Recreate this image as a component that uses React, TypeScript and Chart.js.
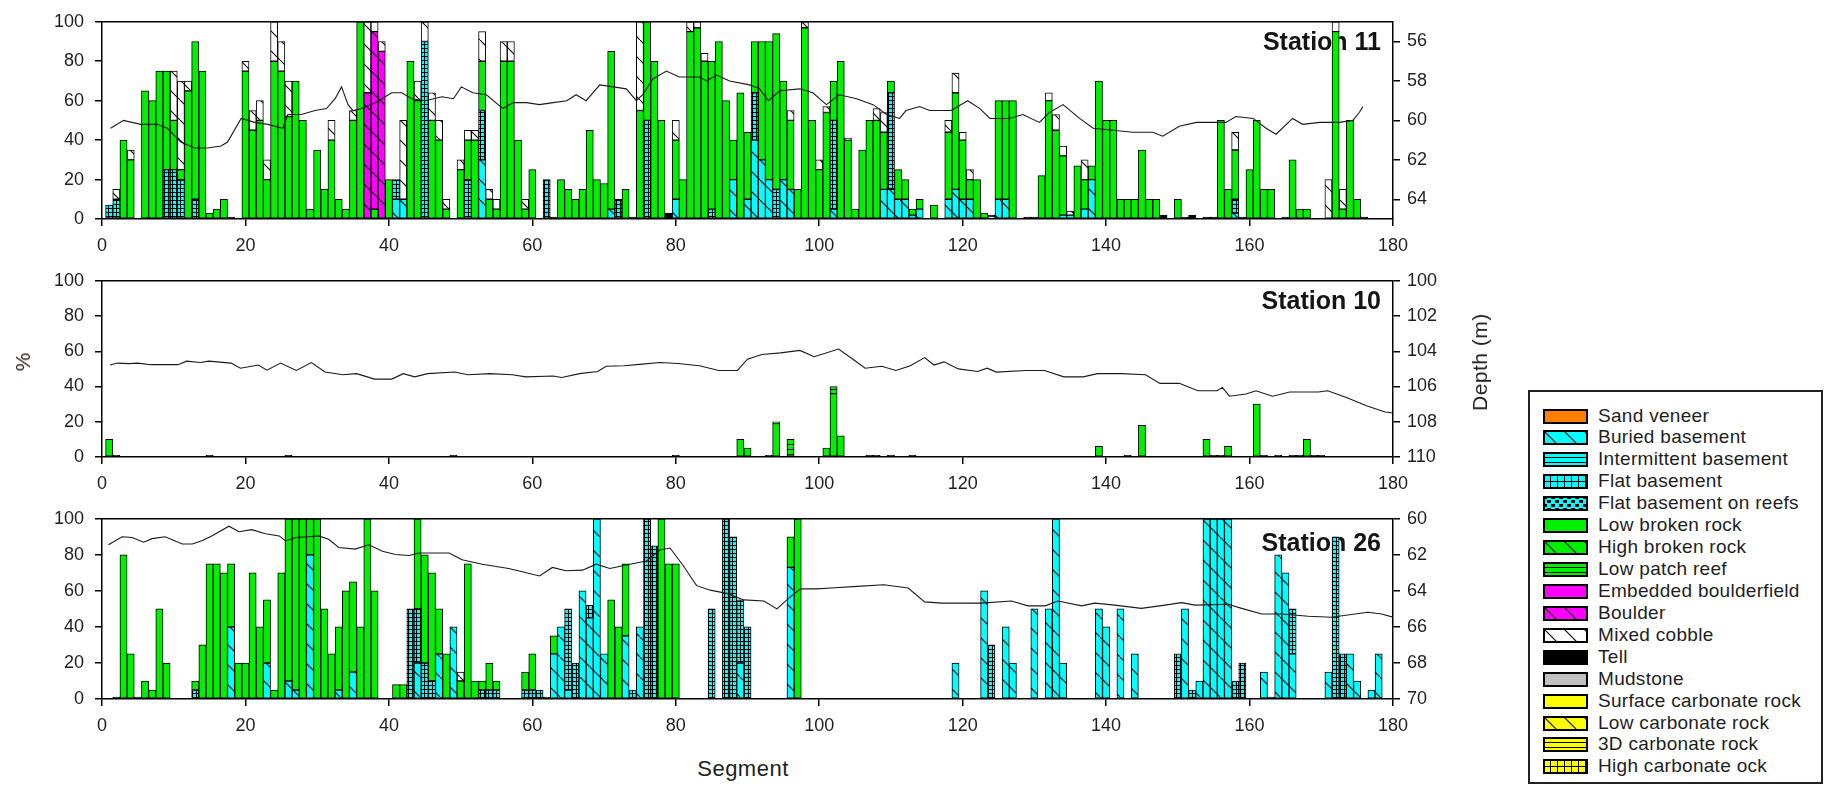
import React, { useEffect, useRef } from 'react';
import { Chart, registerables } from 'chart.js';

Chart.register(...registerables);

type Pair = [number, number];

// ---------------- axis ticks ----------------
const segmentTicks = [0, 20, 40, 60, 80, 100, 120, 140, 160, 180];
const percentTicks = [0, 20, 40, 60, 80, 100];
const st11DepthTicks = [56, 58, 60, 62, 64];
const st10DepthTicks = [100, 102, 104, 106, 108, 110];
const st26DepthTicks = [60, 62, 64, 66, 68, 70];

// ---------------- categories (legend order = stacking order) ----------------
const categoryNames = [
  'Sand veneer',
  'Buried basement',
  'Intermittent basement',
  'Flat basement',
  'Flat basement on reefs',
  'Low broken rock',
  'High broken rock',
  'Low patch reef',
  'Embedded boulderfield',
  'Boulder',
  'Mixed cobble',
  'Tell',
  'Mudstone',
  'Surface carbonate rock',
  'Low carbonate rock',
  '3D carbonate rock',
  'High carbonate ock',
];

const categoryStyles = [
  { color: '#FF8000', kind: 'solid' },
  { color: '#00FFFF', kind: 'diag' },
  { color: '#00FFFF', kind: 'hlines' },
  { color: '#00FFFF', kind: 'grid' },
  { color: '#00FFFF', kind: 'checker' },
  { color: '#00F000', kind: 'solid' },
  { color: '#00F000', kind: 'diag' },
  { color: '#00F000', kind: 'hlines' },
  { color: '#FF00FF', kind: 'solid' },
  { color: '#FF00FF', kind: 'diag' },
  { color: '#FFFFFF', kind: 'diag' },
  { color: '#000000', kind: 'solid' },
  { color: '#C0C0C0', kind: 'solid' },
  { color: '#FFFF00', kind: 'solid' },
  { color: '#FFFF00', kind: 'diag' },
  { color: '#FFFF00', kind: 'hlines' },
  { color: '#FFFF00', kind: 'grid' },
];

// ---------------- Station 11: [segment, %] ----------------
const st11Buried: Pair[] = [[41,10],[42,10],[53,30],[71,5],[80,10],[88,20],[90,10],[91,40],[92,30],[93,20],[95,20],[96,15],[102,5],[109,15],[110,15],[111,10],[112,10],[113,2],[114,5],[118,10],[119,15],[120,10],[121,10],[125,10],[126,10],[134,2],[135,2],[137,5],[138,20],[158,3]];
const st11Flat: Pair[] = [[1,7],[2,10],[9,25],[10,25],[11,20],[13,10],[41,10],[45,90],[51,20],[53,25],[62,20],[72,10],[76,50],[85,5],[91,24],[94,15],[102,45],[110,49],[158,7]];
const st11LowBroken: Pair[] = [[3,40],[4,30],[6,65],[7,60],[8,75],[9,50],[10,25],[11,5],[12,65],[13,80],[14,75],[15,3],[16,5],[17,10],[20,75],[21,45],[22,50],[23,20],[24,80],[25,75],[26,52],[27,70],[28,50],[29,5],[30,35],[31,15],[32,40],[33,10],[34,5],[35,50],[36,100],[38,5],[40,20],[43,80],[44,60],[46,50],[47,40],[48,5],[50,25],[51,20],[52,40],[53,25],[54,10],[55,5],[56,80],[57,80],[58,40],[59,5],[60,25],[64,20],[65,15],[66,10],[67,15],[68,45],[69,20],[70,18],[71,80],[73,15],[75,55],[76,50],[77,80],[78,50],[80,30],[81,20],[82,95],[83,97],[84,80],[85,75],[86,90],[87,60],[88,20],[89,64],[90,34],[91,26],[92,60],[93,70],[94,79],[95,50],[96,35],[97,15],[98,97],[99,50],[100,25],[101,54],[102,20],[103,80],[104,40],[105,5],[106,35],[107,50],[108,50],[109,29],[110,6],[111,15],[112,10],[113,3],[114,5],[116,7],[118,34],[119,49],[120,30],[121,10],[122,20],[123,3],[125,50],[126,50],[127,60],[131,22],[132,60],[133,45],[134,30],[136,27],[137,15],[138,7],[139,70],[140,50],[141,50],[142,10],[143,10],[144,10],[145,35],[146,10],[147,10],[150,10],[156,50],[157,15],[158,25],[160,25],[161,50],[162,15],[163,15],[166,30],[167,5],[168,5],[172,95],[173,5],[174,50],[175,10]];
const st11Boulder: Pair[] = [[37,64],[38,90],[39,85]];
const st11Cobble: Pair[] = [[2,5],[4,5],[10,25],[11,45],[12,5],[20,5],[21,10],[22,10],[23,10],[24,20],[25,15],[26,18],[32,10],[35,5],[37,36],[38,5],[39,5],[42,40],[44,10],[45,10],[46,14],[47,10],[48,5],[50,5],[51,5],[52,5],[53,15],[54,5],[55,5],[56,10],[57,10],[59,5],[75,45],[80,10],[82,5],[83,3],[84,4],[96,5],[98,3],[100,5],[101,3],[104,1],[108,6],[109,10],[118,6],[119,10],[120,4],[121,5],[124,1],[132,4],[133,8],[134,5],[135,2],[137,10],[158,9],[171,20],[172,5],[173,10]];
const st11Tell: Pair[] = [[18,1],[63,1],[74,1],[79,3],[124,1],[129,1],[130,1],[148,2],[151,1],[152,2],[154,1],[155,1],[159,1],[165,1],[176,1]];
const st11Depth: Pair[] = [[1.2,60.4],[3,60.0],[5.4,60.2],[7.7,60.2],[9.1,60.4],[11,61.1],[12.9,61.4],[14.7,61.4],[16.6,61.3],[17.5,61.1],[19.4,59.9],[21.3,60.1],[23.1,60.2],[25.2,60.4],[25.9,59.7],[27.8,59.7],[29.7,59.5],[31.3,59.4],[32.5,58.9],[33.4,58.3],[34.3,59.2],[35,59.5],[36.2,59.4],[38.1,59.1],[40.4,58.6],[41.8,58.6],[43.2,58.9],[45.1,59.0],[47.4,58.8],[49,58.9],[50.1,58.3],[51.7,58.6],[53.6,58.7],[55.9,59.4],[57.3,59.1],[59.2,59.1],[61,59.2],[62.9,59.1],[64.8,59.0],[66.1,58.7],[67.5,59.0],[69.4,58.2],[71.3,58.3],[73.1,58.4],[74.5,59.0],[75.4,58.7],[76.8,57.9],[78.7,57.5],[80.5,57.8],[83.3,57.8],[84.3,58.0],[85.7,57.7],[87.5,58.0],[90.3,58.2],[91.7,58.4],[92.9,59.0],[94.5,58.5],[97.3,58.4],[99.1,58.6],[101,59.2],[102.8,58.7],[105.2,58.9],[107.5,59.2],[109.4,59.7],[111.2,59.9],[112.1,59.5],[114,59.3],[115.4,59.5],[118.4,59.5],[120.7,59.0],[122.4,59.4],[123.8,59.9],[126.5,59.9],[128.4,59.7],[130.7,60.1],[132.1,59.6],[134,59.2],[136.3,59.9],[138.2,60.4],[141,60.5],[143.7,60.6],[146.5,60.6],[147.9,60.8],[150.2,60.3],[152.6,60.1],[154.9,60.1],[156.7,60.1],[158.1,59.8],[160.5,59.9],[162.3,60.4],[163.7,60.7],[166,59.9],[167.4,60.2],[169.8,60.1],[172.5,60.1],[174.4,60.0],[175.3,59.6],[175.8,59.3]];

// ---------------- Station 10 ----------------
const st10LowBroken: Pair[] = [[1,10],[89,10],[90,5],[94,19],[101,5],[102,36],[103,12],[139,6],[145,18],[154,10],[157,6],[161,30],[168,10]];
const st10PatchReef: Pair[] = [[94,1],[96,10],[102,4]];
const st10Tell: Pair[] = [[2,1],[15,1],[26,1],[49,1],[80,1],[93,1],[107,1],[108,1],[110,1],[113,1],[143,1],[155,1],[156,1],[162,1],[164,1],[166,1],[167,1],[169,1],[170,1]];
const st10Depth: Pair[] = [[1.1,104.78],[2.2,104.67],[3.7,104.7],[5,104.67],[6.8,104.76],[10.6,104.76],[11.8,104.56],[13.7,104.64],[14.9,104.56],[18,104.67],[19.3,104.96],[21.8,104.78],[23,105.07],[24.9,104.67],[27.1,105.09],[29.2,104.64],[31.1,105.18],[33.6,105.33],[35.5,105.27],[38,105.58],[40.4,105.58],[42,105.27],[43.6,105.45],[45.4,105.27],[49.2,105.18],[51,105.33],[54.1,105.27],[57.2,105.33],[59.1,105.45],[62.9,105.4],[64.1,105.49],[66.6,105.27],[69.1,105.15],[70.3,104.85],[72.8,104.82],[75.3,104.73],[77.8,104.64],[80.3,104.69],[83.3,104.82],[86,105.09],[88.6,105.09],[90,104.45],[92,104.18],[94.6,104.09],[97.3,103.95],[99.3,104.31],[102.7,103.87],[104.7,104.45],[106.4,104.96],[108.7,104.85],[110.7,105.09],[112.7,104.82],[114.7,104.36],[116,104.78],[117.4,104.6],[119.4,105.0],[122.1,105.15],[123.4,104.96],[124.7,105.18],[128.8,105.09],[131.4,105.09],[134.1,105.45],[136.8,105.45],[138.8,105.27],[142.1,105.27],[145.5,105.33],[147.5,105.82],[150.2,105.82],[152.8,106.24],[155.5,106.24],[156.2,106.05],[157.2,106.55],[159.5,106.42],[160.9,106.24],[163.2,106.55],[165.6,106.31],[169.6,106.31],[170.9,106.24],[173.6,106.64],[176.3,107.09],[178.9,107.45],[180,107.5]];

// ---------------- Station 26 ----------------
const st26Buried: Pair[] = [[18,40],[23,20],[26,10],[27,5],[29,80],[33,5],[35,15],[44,20],[47,25],[49,40],[63,25],[64,40],[65,5],[67,60],[68,45],[69,100],[70,25],[73,35],[75,40],[89,20],[96,73],[119,20],[123,60],[126,40],[127,20],[130,50],[132,50],[133,100],[134,20],[139,50],[140,40],[142,50],[144,25],[151,50],[153,10],[154,100],[155,100],[156,100],[157,100],[162,15],[164,80],[165,70],[166,25],[171,15],[174,25],[175,10],[177,5],[178,25]];
const st26Flat: Pair[] = [[13,5],[43,50],[44,30],[45,20],[46,10],[53,5],[54,5],[55,5],[59,5],[60,5],[61,5],[65,45],[66,20],[68,7],[74,5],[76,100],[77,85],[85,50],[87,100],[88,90],[89,35],[90,40],[124,30],[150,25],[152,5],[158,10],[159,20],[166,25],[172,90],[173,25]];
const st26LowBroken: Pair[] = [[3,80],[4,25],[6,10],[7,5],[8,50],[9,20],[13,5],[14,30],[15,75],[16,75],[17,70],[18,35],[19,20],[20,20],[21,70],[22,40],[23,35],[24,5],[25,70],[26,90],[27,95],[28,100],[29,20],[30,100],[31,50],[32,25],[33,35],[34,60],[35,50],[36,40],[37,100],[38,60],[41,8],[42,8],[44,50],[45,60],[46,60],[47,25],[48,25],[50,10],[51,75],[52,10],[53,5],[54,15],[55,5],[59,10],[60,20],[63,10],[71,55],[72,40],[73,40],[78,100],[79,75],[80,75],[96,17],[97,100]];
const st26Cobble: Pair[] = [[50,5]];
const st26Tell: Pair[] = [[2,1],[5,1],[62,1],[163,1]];
const st26Depth: Pair[] = [[0.9,61.44],[2.8,61.0],[4.2,61.04],[5.8,61.3],[7,61.1],[8.8,61.0],[11.2,61.4],[12.6,61.4],[14,61.2],[15.3,60.95],[17.7,60.41],[19.1,60.72],[20.9,60.6],[22.8,60.83],[24.7,60.95],[25.6,61.23],[27,61.04],[28.8,61.0],[30.2,60.95],[31.6,61.14],[33,61.59],[35.3,61.68],[37.2,61.44],[39.1,61.8],[40.9,61.98],[42.8,62.04],[44.2,61.9],[46.5,61.9],[48.4,61.9],[50.2,62.27],[53,62.52],[56.7,62.76],[58.6,62.94],[61,63.17],[62.8,62.7],[64.7,62.88],[67,62.85],[68.9,62.52],[70.8,62.76],[73.6,62.52],[75.9,62.34],[77.8,61.73],[79.2,61.62],[81,62.58],[82.9,63.71],[84.8,63.96],[87.1,64.14],[89.5,64.5],[92.3,64.56],[94.1,65.0],[96,64.32],[97.4,63.89],[99.7,63.89],[101.6,63.84],[105.3,63.75],[109,63.66],[112.4,63.84],[114.7,64.61],[117.1,64.68],[120.3,64.68],[122.6,64.68],[126.8,64.56],[129.1,64.83],[131.5,64.83],[133.3,64.56],[136.6,64.83],[138.4,64.68],[141.2,64.79],[144.9,64.97],[148.2,64.79],[150.5,64.65],[152.4,64.79],[157,64.74],[158.9,64.97],[161.7,65.28],[164.5,65.28],[168.2,65.41],[171.4,65.46],[174.7,65.28],[176.5,65.19],[178.4,65.28],[180,65.46]];

// series per panel: [category index, values]
const st11Series: [number, Pair[]][] = [[1, st11Buried], [3, st11Flat], [5, st11LowBroken], [9, st11Boulder], [10, st11Cobble], [11, st11Tell]];
const st10Series: [number, Pair[]][] = [[5, st10LowBroken], [7, st10PatchReef], [11, st10Tell]];
const st26Series: [number, Pair[]][] = [[1, st26Buried], [3, st26Flat], [5, st26LowBroken], [10, st26Cobble], [11, st26Tell]];

const FONT = "'Liberation Sans', Arial, Helvetica, sans-serif";
const INK = '#1e1e1e';

function makeFill(color: string, kind: string, gridSize = 4): string | CanvasPattern {
  if (kind === 'solid') return color;
  const tile = document.createElement('canvas');
  let w = 8, h = 8;
  if (kind === 'diag') { w = 20; h = 20; }
  if (kind === 'hlines') { w = 4; h = 5; }
  if (kind === 'grid') { w = gridSize; h = gridSize; }
  tile.width = w;
  tile.height = h;
  const g = tile.getContext('2d')!;
  g.fillStyle = color;
  g.fillRect(0, 0, w, h);
  g.fillStyle = '#000';
  g.strokeStyle = '#000';
  if (kind === 'diag') {
    g.lineWidth = 1.1;
    g.beginPath();
    g.moveTo(-2, -2);
    g.lineTo(w + 2, h + 2);
    g.stroke();
  } else if (kind === 'hlines') {
    g.fillRect(0, 0, w, 1);
  } else if (kind === 'grid') {
    g.fillRect(0, 0, w, 1);
    g.fillRect(0, 0, 1, h);
  } else if (kind === 'checker') {
    g.fillRect(0, 0, 4, 3);
    g.fillRect(4, 4, 4, 3);
  }
  return g.createPattern(tile, 'repeat') as CanvasPattern;
}

const stationLabelPlugin = {
  id: 'stationLabel',
  beforeDatasetsDraw(chart: any, _args: any, opts: any) {
    const { ctx, chartArea } = chart;
    ctx.save();
    ctx.font = `bold 25px ${FONT}`;
    ctx.fillStyle = '#141414';
    ctx.textAlign = 'right';
    ctx.textBaseline = 'middle';
    ctx.fillText(opts.text, chartArea.right - 12, chartArea.top + opts.dy);
    ctx.restore();
  },
};

const framePlugin = {
  id: 'frameTop',
  afterDatasetsDraw(chart: any) {
    const { ctx, chartArea } = chart;
    ctx.save();
    ctx.strokeStyle = '#000';
    ctx.lineWidth = 1.5;
    ctx.beginPath();
    ctx.moveTo(chartArea.left, chartArea.top);
    ctx.lineTo(chartArea.right, chartArea.top);
    ctx.stroke();
    ctx.restore();
  },
};

type PanelProps = {
  top: number;
  height: number;
  padTop: number;
  title: string;
  titleDy: number;
  series: [number, Pair[]][];
  depth: Pair[];
  dMin: number;
  dMax: number;
  depthTicks: number[];
};

function axisStyle() {
  return {
    grid: { offset: false, drawOnChartArea: false, drawTicks: true, tickLength: 7, color: '#000', lineWidth: 1.5 },
    border: { display: true, color: '#000', width: 1.5 },
  };
}

function Panel(p: PanelProps) {
  const ref = useRef<HTMLCanvasElement | null>(null);
  useEffect(() => {
    const canvas = ref.current;
    if (!canvas) return;
    const barSets = p.series.map(([ci, pairs]) => ({
      type: 'bar' as const,
      label: categoryNames[ci],
      data: pairs.map(([x, y]) => ({ x, y })),
      backgroundColor: makeFill(categoryStyles[ci].color, categoryStyles[ci].kind, 4),
      borderColor: '#000',
      borderWidth: 1,
      borderSkipped: false as const,
      barPercentage: 1,
      categoryPercentage: 1,
      stack: 'cover',
      xAxisID: 'x',
      yAxisID: 'y',
      order: 1,
    }));
    const lineSet = {
      type: 'line' as const,
      label: 'Depth',
      data: p.depth.map(([x, y]) => ({ x, y })),
      borderColor: '#1a1a1a',
      borderWidth: 1.1,
      pointRadius: 0,
      tension: 0,
      fill: false,
      xAxisID: 'x',
      yAxisID: 'y2',
      order: 0,
    };
    const chart = new Chart(canvas, {
      type: 'bar',
      data: { datasets: [...barSets, lineSet] as any },
      options: {
        animation: false,
        responsive: false,
        maintainAspectRatio: false,
        events: [],
        layout: { padding: { top: p.padTop, left: 0, right: 0, bottom: 0 } },
        plugins: {
          legend: { display: false },
          tooltip: { enabled: false },
          stationLabel: { text: p.title, dy: p.titleDy },
        } as any,
        scales: {
          x: {
            type: 'linear',
            position: 'bottom',
            min: 0,
            max: 180,
            offset: false,
            ...axisStyle(),
            ticks: { font: { family: FONT, size: 18 }, color: INK, padding: 9, maxRotation: 0, autoSkip: false },
            afterBuildTicks: (s: any) => { s.ticks = segmentTicks.map((v) => ({ value: v })); },
            afterFit: (s: any) => { s.height = 40; },
          },
          y: {
            type: 'linear',
            position: 'left',
            min: 0,
            max: 100,
            stacked: true,
            ...axisStyle(),
            ticks: { font: { family: FONT, size: 18 }, color: INK, padding: 11 },
            afterBuildTicks: (s: any) => { s.ticks = percentTicks.map((v) => ({ value: v })); },
            afterFit: (s: any) => { s.width = 102; },
          },
          y2: {
            type: 'linear',
            position: 'right',
            reverse: true,
            min: p.dMin,
            max: p.dMax,
            ...axisStyle(),
            ticks: { font: { family: FONT, size: 18 }, color: INK, padding: 7 },
            afterBuildTicks: (s: any) => { s.ticks = p.depthTicks.map((v) => ({ value: v })); },
            afterFit: (s: any) => { s.width = 107; },
          },
        } as any,
      },
      plugins: [stationLabelPlugin, framePlugin],
    });
    return () => chart.destroy();
  }, []);
  return (
    <canvas
      ref={ref}
      width={1500}
      height={p.height}
      style={{ position: 'absolute', left: 0, top: p.top, width: 1500, height: p.height }}
    />
  );
}

function Swatch({ index }: { index: number }) {
  const ref = useRef<HTMLCanvasElement | null>(null);
  useEffect(() => {
    const c = ref.current;
    if (!c) return;
    const g = c.getContext('2d')!;
    const st = categoryStyles[index];
    g.clearRect(0, 0, 45, 15);
    g.fillStyle = makeFill(st.color, st.kind, 7) as any;
    g.fillRect(0, 0, 45, 15);
    g.strokeStyle = '#000';
    g.lineWidth = 2;
    g.strokeRect(1, 1, 43, 13);
  }, [index]);
  return <canvas ref={ref} width={45} height={15} style={{ position: 'absolute', left: 13, top: 0, width: 45, height: 15 }} />;
}

function Legend() {
  return (
    <div
      style={{
        position: 'absolute',
        left: 1528,
        top: 390,
        width: 295,
        height: 394,
        border: '2px solid #222',
        boxSizing: 'border-box',
        background: '#fff',
      }}
    >
      {categoryNames.map((name, i) => {
        const cy = 24 + i * 21.93;
        return (
          <div key={name} style={{ position: 'absolute', left: 0, top: cy - 7.5, width: 290, height: 15 }}>
            <Swatch index={i} />
            <div
              style={{
                position: 'absolute',
                left: 68,
                top: -4,
                fontFamily: FONT,
                fontSize: 19,
                letterSpacing: '0.3px',
                lineHeight: '22px',
                color: INK,
                whiteSpace: 'nowrap',
              }}
            >
              {name}
            </div>
          </div>
        );
      })}
    </div>
  );
}

export default function App() {
  useEffect(() => {
    document.body.style.margin = '0';
  }, []);
  return (
    <div style={{ position: 'absolute', left: 0, top: 0, width: 1830, height: 790, background: '#fff', overflow: 'hidden' }}>
      <Panel top={0} height={259} padTop={18} title="Station 11" titleDy={21} series={st11Series} depth={st11Depth} dMin={55} dMax={65} depthTicks={st11DepthTicks} />
      <Panel top={259} height={238} padTop={12} title="Station 10" titleDy={21} series={st10Series} depth={st10Depth} dMin={100} dMax={110} depthTicks={st10DepthTicks} />
      <Panel top={497} height={242} padTop={13} title="Station 26" titleDy={25} series={st26Series} depth={st26Depth} dMin={60} dMax={70} depthTicks={st26DepthTicks} />
      <div
        style={{
          position: 'absolute', left: 23, top: 362, transform: 'translate(-50%, -50%) rotate(-90deg)',
          fontFamily: FONT, fontSize: 21, color: '#2a1a1a', whiteSpace: 'nowrap',
        }}
      >
        %
      </div>
      <div
        style={{
          position: 'absolute', left: 1480, top: 362, transform: 'translate(-50%, -50%) rotate(-90deg)',
          fontFamily: FONT, fontSize: 21, letterSpacing: '0.5px', color: INK, whiteSpace: 'nowrap',
        }}
      >
        Depth (m)
      </div>
      <div
        style={{
          position: 'absolute', left: 743, top: 769, transform: 'translate(-50%, -50%)',
          fontFamily: FONT, fontSize: 22, letterSpacing: '0.5px', color: INK, whiteSpace: 'nowrap',
        }}
      >
        Segment
      </div>
      <Legend />
    </div>
  );
}
